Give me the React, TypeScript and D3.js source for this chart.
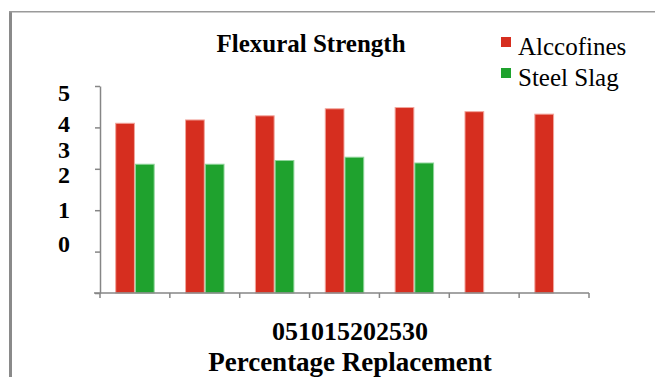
import React, { useEffect, useRef } from 'react';
import * as d3 from 'd3';

// values
const categories = ['0', '5', '10', '15', '20', '25', '30'];
const alccofines = [4.1, 4.18, 4.28, 4.45, 4.48, 4.38, 4.32];
const steelSlag = [3.11, 3.11, 3.2, 3.28, 3.14, null, null];
const seriesNames = ['Alccofines', 'Steel Slag'];
const yTicks = [0, 1, 2, 3, 4, 5];
// the y labels sit off their ticks in the original, these are where they land (in data units)
const yLabelAt = [1.19, 2.01, 2.86, 3.47, 4.1, 4.83];

function App() {
    const chartRef = useRef<SVGSVGElement>(null);

    const width = 655;
    const height = 377;
    const marginTop = 86;
    const marginBottom = 84;
    const marginLeft = 100;
    const plotRight = 589;

    useEffect(() => {
        const svg = d3.select(chartRef.current)
            .attr('width', width)
            .attr('height', height)
            .attr('viewBox', [0, 0, width, height] as any);

        svg.selectAll('*').remove();

        const colors = { fill: ['#d62e1f', '#1fa22e'], edge: ['#f2a59c', '#8fd49a'] };

        // outer frame (only left and top edges show)
        svg.append('line')
            .attr('x1', 10.5).attr('x2', 10.5)
            .attr('y1', 11).attr('y2', height)
            .attr('stroke', '#8a8a8a').attr('stroke-width', 3);
        svg.append('line')
            .attr('x1', 9).attr('x2', width)
            .attr('y1', 11.8).attr('y2', 11.8)
            .attr('stroke', '#9a9a9a').attr('stroke-width', 1.5);

        const x = d3.scaleBand()
            .domain(categories)
            .range([marginLeft, plotRight]);

        const x1 = d3.scaleBand()
            .domain(seriesNames)
            .range([0, x.bandwidth()])
            .paddingOuter(0.77)
            .paddingInner(0);

        const y = d3.scaleLinear()
            .domain([0, 5])
            .range([height - marginBottom, marginTop]);

        const font = '"Liberation Serif", "Times New Roman", serif';

        // bars
        const rows = categories.map((c, i) => ({ c, vals: [alccofines[i], steelSlag[i]] }));
        const groups = svg.append('g')
            .selectAll('g')
            .data(rows)
            .join('g')
            .attr('transform', d => `translate(${x(d.c)},0)`);

        groups.selectAll('rect')
            .data(d => d.vals.map((v, k) => ({ v, k })).filter(e => e.v != null))
            .join('rect')
            .attr('x', d => x1(seriesNames[d.k])! + 0.5)
            .attr('y', d => y(d.v as number))
            .attr('width', x1.bandwidth() - 1)
            .attr('height', d => y(0) - y(d.v as number))
            .attr('fill', d => colors.fill[d.k])
            .attr('stroke', d => colors.edge[d.k])
            .attr('stroke-width', 1);

        // y axis: line + tick marks, labels drawn separately
        svg.append('g')
            .attr('transform', `translate(${marginLeft},0)`)
            .call(d3.axisLeft(y).tickValues(yTicks).tickSize(5).tickFormat(() => '').tickSizeOuter(0))
            .call(g => g.select('.domain').attr('stroke', '#868686').attr('stroke-width', 1.5))
            .call(g => g.selectAll('.tick line').attr('stroke', '#868686').attr('stroke-width', 1.5));

        svg.append('g')
            .selectAll('text')
            .data(yTicks)
            .join('text')
            .attr('x', 70)
            .attr('y', (d, i) => y(yLabelAt[i]))
            .attr('dy', '0.35em')
            .attr('text-anchor', 'end')
            .attr('font-family', font)
            .attr('font-weight', 'bold')
            .attr('font-size', 24)
            .text(d => d);

        // x axis: ticks at category boundaries
        const bounds = categories.map(c => x(c)!).concat([plotRight]);
        const xAxis = svg.append('g');
        xAxis.append('line')
            .attr('x1', 94).attr('x2', plotRight)
            .attr('y1', y(0)).attr('y2', y(0))
            .attr('stroke', '#868686').attr('stroke-width', 1.5);
        xAxis.selectAll('line.tick')
            .data(bounds)
            .join('line')
            .attr('class', 'tick')
            .attr('x1', d => d).attr('x2', d => d)
            .attr('y1', y(0)).attr('y2', y(0) + 5)
            .attr('stroke', '#868686').attr('stroke-width', 1.5);

        // category labels run together in the original
        svg.append('text')
            .attr('x', 350)
            .attr('y', 340)
            .attr('text-anchor', 'middle')
            .attr('font-family', font)
            .attr('font-weight', 'bold')
            .attr('font-size', 26)
            .text(categories.join(''));

        svg.append('text')
            .attr('x', 350)
            .attr('y', 371)
            .attr('text-anchor', 'middle')
            .attr('font-family', font)
            .attr('font-weight', 'bold')
            .attr('font-size', 27)
            .text('Percentage Replacement');

        svg.append('text')
            .attr('x', 311)
            .attr('y', 52)
            .attr('text-anchor', 'middle')
            .attr('font-family', font)
            .attr('font-weight', 'bold')
            .attr('font-size', 25)
            .text('Flexural Strength');

        // legend
        const legend = svg.append('g').attr('transform', 'translate(501,37)');
        const item = legend.selectAll('g')
            .data(seriesNames)
            .join('g')
            .attr('transform', (d, i) => `translate(0,${i * 31})`);
        item.append('rect')
            .attr('width', 10)
            .attr('height', 10)
            .attr('fill', (d, i) => colors.fill[i]);
        item.append('text')
            .attr('x', 17)
            .attr('y', 18)
            .attr('font-family', font)
            .attr('font-size', 25)
            .text(d => d);
    }, []);

    return (
        <div>
            <svg ref={chartRef} style={{ position: 'absolute', left: 0, top: 0, background: '#fff' }}></svg>
        </div>
    );
}

export default App;
